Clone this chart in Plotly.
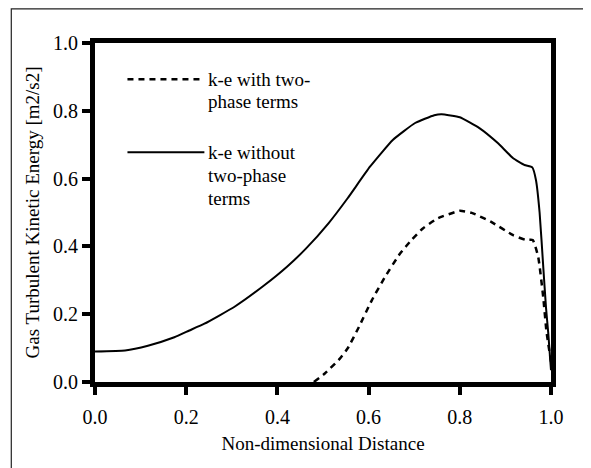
import plotly.graph_objects as go

# Solid: k-e without two-phase terms
x_without = [0.0, 0.066, 0.116, 0.174, 0.207, 0.24, 0.306, 0.372, 0.421, 0.463, 0.512, 0.554,
             0.603, 0.653, 0.702, 0.744, 0.76, 0.80, 0.843, 0.884, 0.917, 0.942, 0.959, 0.967,
             0.975, 0.983, 0.989, 0.994, 1.0]
y_without = [0.09, 0.093, 0.107, 0.132, 0.152, 0.172, 0.222, 0.286, 0.34, 0.394, 0.468, 0.542,
             0.635, 0.714, 0.764, 0.787, 0.790, 0.781, 0.749, 0.704, 0.66, 0.64, 0.633, 0.596,
             0.5, 0.34, 0.22, 0.144, 0.035]

# Dashed: k-e with two-phase terms
x_with = [0.48, 0.504, 0.537, 0.554, 0.579, 0.607, 0.636, 0.669, 0.694, 0.719, 0.752, 0.80,
          0.826, 0.868, 0.917, 0.945, 0.96, 0.972, 0.983, 0.99, 1.0]
y_with = [0.0, 0.025, 0.069, 0.099, 0.163, 0.241, 0.31, 0.379, 0.419, 0.453, 0.483, 0.505,
          0.499, 0.473, 0.433, 0.419, 0.419, 0.369, 0.25, 0.15, 0.06]

x_ticks = [0.0, 0.2, 0.4, 0.6, 0.8, 1.0]
y_ticks = [0.0, 0.2, 0.4, 0.6, 0.8, 1.0]

FONT = "Liberation Serif"

fig = go.Figure()
fig.add_trace(go.Scatter(x=x_without, y=y_without, mode="lines", name="k-e without two-phase terms",
                         line=dict(color="black", width=2, shape="spline", smoothing=0.4),
                         showlegend=False))
fig.add_trace(go.Scatter(x=x_with, y=y_with, mode="lines", name="k-e with two-phase terms",
                         line=dict(color="black", width=2.5, dash="6px,5px", shape="spline", smoothing=0.4),
                         showlegend=False))

W, H = 591, 468
OFF = 8  # page body margin
# target plot area in page pixels
PX0, PX1, PY0, PY1 = 94.5, 551, 42.7, 381.7
L = PX0 - OFF
R = W - (PX1 - OFF)
T = PY0 - OFF
B = H - (PY1 - OFF)
pw, ph = PX1 - PX0, PY1 - PY0

def px(xp):
    return (xp - PX0) / pw

def py(yp):
    return (PY1 - yp) / ph

shapes = [
    # outer frame
    dict(type="rect", xref="paper", yref="paper", x0=px(10.7), x1=px(584.5), y0=py(490), y1=py(OFF + 0.6),
         line=dict(color="#222", width=1.2), layer="below"),
    # legend samples
    dict(type="line", xref="paper", yref="paper", x0=px(127), x1=px(204), y0=py(79), y1=py(79),
         line=dict(color="black", width=2.5, dash="6px,5px")),
    dict(type="line", xref="paper", yref="paper", x0=px(127), x1=px(204), y0=py(152), y1=py(152),
         line=dict(color="black", width=2)),
]

legend_lines = [("k-e with two-", 79), ("phase terms", 101), ("k-e without", 152),
                ("two-phase", 175), ("terms", 198)]
annotations = [dict(text=t, xref="paper", yref="paper", x=px(206), y=py(yy), xanchor="left",
                    yanchor="middle", showarrow=False, font=dict(family=FONT, size=19, color="black"))
               for t, yy in legend_lines]

axis_common = dict(showline=True, linewidth=5, linecolor="black", mirror=True, ticks="outside",
                   ticklen=8, tickwidth=4, tickcolor="black", showgrid=False, zeroline=False,
                   tickfont=dict(family=FONT, size=20, color="black"))

fig.update_layout(
    width=W, height=H,
    margin=dict(l=L, r=R, t=T, b=B),
    font=dict(family=FONT, color="black"),
    paper_bgcolor="white", plot_bgcolor="white",
    xaxis=dict(range=[0, 1], tickvals=x_ticks, ticktext=[f"{v:.1f}" for v in x_ticks],
               ticklabelstandoff=5,
               title=dict(text="Non-dimensional Distance", font=dict(family=FONT, size=19, color="black"),
                          standoff=11), **axis_common),
    yaxis=dict(range=[0, 1], tickvals=y_ticks, ticktext=[f"{v:.1f}" for v in y_ticks],
               ticklabelstandoff=0,
               title=dict(text="Gas Turbulent Kinetic Energy [m2/s2]",
                          font=dict(family=FONT, size=19, color="black"), standoff=10), **axis_common),
    shapes=shapes,
    annotations=annotations,
)

fig.write_html("out.html")
